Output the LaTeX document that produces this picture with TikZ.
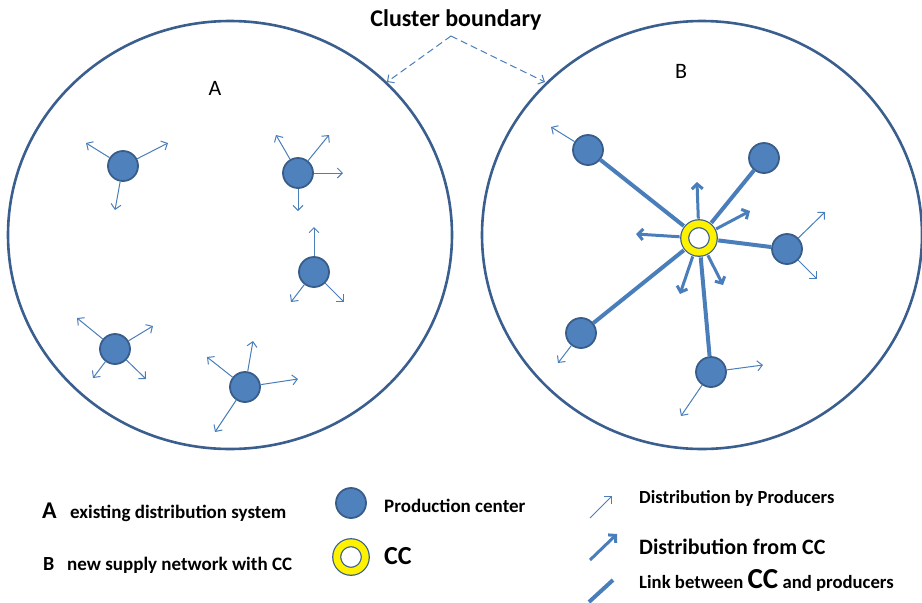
\documentclass[tikz,border=0pt]{standalone}
\usepackage{fontspec}
\setmainfont{Carlito}
\usetikzlibrary{arrows.meta, positioning}
\definecolor{prodfill}{HTML}{4F81BD}
\definecolor{prodborder}{HTML}{385D8A}
\definecolor{arrowblue}{HTML}{4A7EBB}
\definecolor{ringblue}{HTML}{3A5F8F}

\begin{document}
\begin{tikzpicture}[x=1pt, y=-1pt,
    boundary/.style={draw=ringblue, line width=2.6pt},
    prod/.style={circle, draw=prodborder, fill=prodfill, line width=1.8pt, minimum size=30pt, inner sep=0pt},
    ccnode/.style={circle, draw=prodborder, double=yellow, double distance=6.8pt, line width=1.2pt, fill=white, minimum size=28.5pt, inner sep=0pt},
    thinarrow/.style={draw=arrowblue, line width=1pt, -{Straight Barb[length=5pt, width=10pt]}},
    ccarrow/.style={draw=arrowblue, line width=3pt, shorten <=4.6pt, -{Straight Barb[length=5pt, width=11pt]}},
    link/.style={draw=arrowblue, line width=4pt, shorten <=4.6pt},
    dasharrow/.style={draw=arrowblue, line width=1pt, dash pattern=on 7pt off 4pt, -{Straight Barb[length=5pt, width=10pt]}},
    lbl/.style={font=\bfseries\fontsize{19}{22}\selectfont, anchor=base west, inner sep=0pt}]
    \useasboundingbox (0,0) rectangle (922,603);

    % Cluster boundaries
    \draw[boundary] (230,235) ellipse [x radius=222, y radius=214];
    \draw[boundary] (702,235) ellipse [x radius=220, y radius=214];
    \node[font=\fontsize{22}{24}\selectfont, anchor=base] (labA) at (215,95) {A};
    \node[font=\fontsize{22}{24}\selectfont, anchor=base] (labB) at (681,78) {B};

    % Title with arrows
    \node[font=\bfseries\fontsize{24}{28}\selectfont, anchor=base, inner sep=0pt] (title) at (456,26) {Cluster boundary};
    \coordinate (split) at (451,36);
    \coordinate (hitA) at (387,82);
    \coordinate (hitB) at (545,82);
    \draw[dasharrow] (split) -- (hitA);
    \draw[dasharrow] (split) -- (hitB);

    % A: existing distribution system
    \node[prod] (a1) at (123,166) {};
    \node[prod] (a2) at (298,173) {};
    \node[prod] (a3) at (314,272) {};
    \node[prod] (a4) at (115,349) {};
    \node[prod] (a5) at (245,387) {};
    \foreach \n/\x/\y [count=\i] in {a1/86/143, a1/168/143, a1/115/210,
        a2/276/135, a2/329/135, a2/343/173, a2/298/211,
        a3/314/227, a3/291/302, a3/344/302,
        a4/77/318, a4/153/326, a4/93/378, a4/146/379,
        a5/207/357, a5/253/341, a5/298/379, a5/215/432} {
        \coordinate (ta\i) at (\x,\y);
        \draw[thinarrow] (\n) -- (ta\i);
    }

    % B: new supply network with CC
    \node[ccnode] (cc) at (699,238) {};
    \node[prod] (b1) at (588,150) {};
    \node[prod] (b2) at (764,158) {};
    \node[prod] (b3) at (787,249) {};
    \node[prod] (b4) at (581,333) {};
    \node[prod] (b5) at (711,372) {};
    \foreach \n in {b1,b2,b3,b4,b5}
        \draw[link] (cc) -- (\n);
    \foreach \x/\y [count=\i] in {697/182, 750/211, 636/234, 680/294, 723/285} {
        \coordinate (tc\i) at (\x,\y);
        \draw[ccarrow] (cc) -- (tc\i);
    }
    \foreach \n/\x/\y [count=\i] in {b1/551/127, b3/825/212, b3/817/279,
        b4/558/363, b5/763/365, b5/681/416} {
        \coordinate (tb\i) at (\x,\y);
        \draw[thinarrow] (\n) -- (tb\i);
    }

    % Legend
    \node[lbl, font=\bfseries\fontsize{24}{28}\selectfont] (legA) at (42,518) {A};
    \node[lbl] (legAtxt) at (70,518) {existing distribution system};
    \node[lbl, font=\bfseries\fontsize{20}{24}\selectfont] (legB) at (43,570) {B};
    \node[lbl] (legBtxt) at (67,570) {new supply network with CC};
    \node[prod] (legprod) at (351,503) {};
    \node[lbl] (legprodtxt) at (384,512) {Production center};
    \node[ccnode] (legcc) at (351,557) {};
    \node[lbl, font=\bfseries\fontsize{26}{30}\selectfont] (legcctxt) at (384,564) {CC};

    \coordinate (d1s) at (590,518);
    \coordinate (d1e) at (612,496);
    \draw[thinarrow] (d1s) -- (d1e);
    \node[lbl, font=\bfseries\fontsize{18.5}{22}\selectfont] (legd1) at (639,503) {Distribution by Producers};
    \coordinate (d2s) at (590,560);
    \coordinate (d2e) at (617,534);
    \draw[ccarrow, shorten <=0pt] (d2s) -- (d2e);
    \node[lbl, font=\bfseries\fontsize{22}{26}\selectfont] (legd2) at (639,554) {Distribution from CC};
    \coordinate (d3s) at (589,602);
    \coordinate (d3e) at (613,580);
    \draw[link, shorten <=0pt] (d3s) -- (d3e);
    \node[lbl, font=\bfseries\fontsize{18.7}{22}\selectfont] (legd3) at (639,588)
        {Link between {\fontsize{29}{32}\selectfont CC} and producers};
\end{tikzpicture}
\end{document}
